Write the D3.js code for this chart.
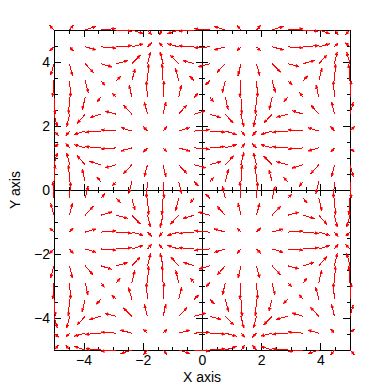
<!DOCTYPE html>
<html>
<head>
<meta charset="utf-8">
<script src="https://cdn.jsdelivr.net/npm/d3@7"></script>
<style>
body { margin: 0; background: #fff; }
text { font-family: "Liberation Sans", Arial, sans-serif; }
</style>
</head>
<body>
<div id="chart"></div>
<script>
// grid positions (same for x and y), 20 points from -5 to 5
var gridX = [-5, -4.474, -3.947, -3.421, -2.895, -2.368, -1.842, -1.316, -0.789, -0.263,
             0.263, 0.789, 1.316, 1.842, 2.368, 2.895, 3.421, 3.947, 4.474, 5];
var gridY = gridX.slice();

// u component, one row per y (bottom row first)
var uRows = [
  [0.27,-0.23,-0.66,-0.92,-0.93,-0.69,-0.26,0.24,0.68,0.93,0.93,0.68,0.24,-0.26,-0.69,-0.93,-0.92,-0.66,-0.23,0.27],
  [0.28,-0.23,-0.67,-0.93,-0.94,-0.70,-0.26,0.25,0.68,0.94,0.94,0.68,0.25,-0.26,-0.70,-0.94,-0.93,-0.67,-0.23,0.28],
  [0.20,-0.17,-0.50,-0.69,-0.70,-0.52,-0.19,0.18,0.51,0.70,0.70,0.51,0.18,-0.19,-0.52,-0.70,-0.69,-0.50,-0.17,0.20],
  [0.08,-0.07,-0.19,-0.27,-0.27,-0.20,-0.07,0.07,0.19,0.27,0.27,0.19,0.07,-0.07,-0.20,-0.27,-0.27,-0.19,-0.07,0.08],
  [-0.07,0.06,0.17,0.23,0.24,0.17,0.07,-0.06,-0.17,-0.24,-0.24,-0.17,-0.06,0.07,0.17,0.24,0.23,0.17,0.06,-0.07],
  [-0.20,0.17,0.48,0.67,0.68,0.50,0.19,-0.18,-0.49,-0.67,-0.67,-0.49,-0.18,0.19,0.50,0.68,0.67,0.48,0.17,-0.20],
  [-0.27,0.23,0.67,0.93,0.93,0.69,0.26,-0.24,-0.68,-0.93,-0.93,-0.68,-0.24,0.26,0.69,0.93,0.93,0.67,0.23,-0.27],
  [-0.27,0.23,0.67,0.93,0.94,0.69,0.26,-0.24,-0.68,-0.93,-0.93,-0.68,-0.24,0.26,0.69,0.94,0.93,0.67,0.23,-0.27],
  [-0.20,0.17,0.49,0.68,0.69,0.51,0.19,-0.18,-0.50,-0.69,-0.69,-0.50,-0.18,0.19,0.51,0.69,0.68,0.49,0.17,-0.20],
  [-0.07,0.06,0.18,0.25,0.25,0.19,0.07,-0.07,-0.18,-0.25,-0.25,-0.18,-0.07,0.07,0.19,0.25,0.25,0.18,0.06,-0.07],
  [0.07,-0.06,-0.18,-0.25,-0.25,-0.19,-0.07,0.07,0.18,0.25,0.25,0.18,0.07,-0.07,-0.19,-0.25,-0.25,-0.18,-0.06,0.07],
  [0.20,-0.17,-0.49,-0.68,-0.69,-0.51,-0.19,0.18,0.50,0.69,0.69,0.50,0.18,-0.19,-0.51,-0.69,-0.68,-0.49,-0.17,0.20],
  [0.27,-0.23,-0.67,-0.93,-0.94,-0.69,-0.26,0.24,0.68,0.93,0.93,0.68,0.24,-0.26,-0.69,-0.94,-0.93,-0.67,-0.23,0.27],
  [0.27,-0.23,-0.67,-0.93,-0.93,-0.69,-0.26,0.24,0.68,0.93,0.93,0.68,0.24,-0.26,-0.69,-0.93,-0.93,-0.67,-0.23,0.27],
  [0.20,-0.17,-0.48,-0.67,-0.68,-0.50,-0.19,0.18,0.49,0.67,0.67,0.49,0.18,-0.19,-0.50,-0.68,-0.67,-0.48,-0.17,0.20],
  [0.07,-0.06,-0.17,-0.23,-0.24,-0.17,-0.07,0.06,0.17,0.24,0.24,0.17,0.06,-0.07,-0.17,-0.24,-0.23,-0.17,-0.06,0.07],
  [-0.08,0.07,0.19,0.27,0.27,0.20,0.07,-0.07,-0.19,-0.27,-0.27,-0.19,-0.07,0.07,0.20,0.27,0.27,0.19,0.07,-0.08],
  [-0.20,0.17,0.50,0.69,0.70,0.52,0.19,-0.18,-0.51,-0.70,-0.70,-0.51,-0.18,0.19,0.52,0.70,0.69,0.50,0.17,-0.20],
  [-0.28,0.23,0.67,0.93,0.94,0.70,0.26,-0.25,-0.68,-0.94,-0.94,-0.68,-0.25,0.26,0.70,0.94,0.93,0.67,0.23,-0.28],
  [-0.27,0.23,0.66,0.92,0.93,0.69,0.26,-0.24,-0.68,-0.93,-0.93,-0.68,-0.24,0.26,0.69,0.93,0.92,0.66,0.23,-0.27]
];

// v component, one row per y (bottom row first)
var vRows = [
  [0.27,0.28,0.20,0.08,-0.07,-0.20,-0.27,-0.27,-0.20,-0.07,0.07,0.20,0.27,0.27,0.20,0.07,-0.08,-0.20,-0.28,-0.27],
  [-0.23,-0.23,-0.17,-0.07,0.06,0.17,0.23,0.23,0.17,0.06,-0.06,-0.17,-0.23,-0.23,-0.17,-0.06,0.07,0.17,0.23,0.23],
  [-0.66,-0.67,-0.50,-0.19,0.17,0.48,0.67,0.67,0.49,0.18,-0.18,-0.49,-0.67,-0.67,-0.48,-0.17,0.19,0.50,0.67,0.66],
  [-0.92,-0.93,-0.69,-0.27,0.23,0.67,0.93,0.93,0.68,0.25,-0.25,-0.68,-0.93,-0.93,-0.67,-0.23,0.27,0.69,0.93,0.92],
  [-0.93,-0.94,-0.70,-0.27,0.24,0.68,0.93,0.94,0.69,0.25,-0.25,-0.69,-0.94,-0.93,-0.68,-0.24,0.27,0.70,0.94,0.93],
  [-0.69,-0.70,-0.52,-0.20,0.17,0.50,0.69,0.69,0.51,0.19,-0.19,-0.51,-0.69,-0.69,-0.50,-0.17,0.20,0.52,0.70,0.69],
  [-0.26,-0.26,-0.19,-0.07,0.07,0.19,0.26,0.26,0.19,0.07,-0.07,-0.19,-0.26,-0.26,-0.19,-0.07,0.07,0.19,0.26,0.26],
  [0.24,0.25,0.18,0.07,-0.06,-0.18,-0.24,-0.24,-0.18,-0.07,0.07,0.18,0.24,0.24,0.18,0.06,-0.07,-0.18,-0.25,-0.24],
  [0.68,0.68,0.51,0.19,-0.17,-0.49,-0.68,-0.68,-0.50,-0.18,0.18,0.50,0.68,0.68,0.49,0.17,-0.19,-0.51,-0.68,-0.68],
  [0.93,0.94,0.70,0.27,-0.24,-0.67,-0.93,-0.93,-0.69,-0.25,0.25,0.69,0.93,0.93,0.67,0.24,-0.27,-0.70,-0.94,-0.93],
  [0.93,0.94,0.70,0.27,-0.24,-0.67,-0.93,-0.93,-0.69,-0.25,0.25,0.69,0.93,0.93,0.67,0.24,-0.27,-0.70,-0.94,-0.93],
  [0.68,0.68,0.51,0.19,-0.17,-0.49,-0.68,-0.68,-0.50,-0.18,0.18,0.50,0.68,0.68,0.49,0.17,-0.19,-0.51,-0.68,-0.68],
  [0.24,0.25,0.18,0.07,-0.06,-0.18,-0.24,-0.24,-0.18,-0.07,0.07,0.18,0.24,0.24,0.18,0.06,-0.07,-0.18,-0.25,-0.24],
  [-0.26,-0.26,-0.19,-0.07,0.07,0.19,0.26,0.26,0.19,0.07,-0.07,-0.19,-0.26,-0.26,-0.19,-0.07,0.07,0.19,0.26,0.26],
  [-0.69,-0.70,-0.52,-0.20,0.17,0.50,0.69,0.69,0.51,0.19,-0.19,-0.51,-0.69,-0.69,-0.50,-0.17,0.20,0.52,0.70,0.69],
  [-0.93,-0.94,-0.70,-0.27,0.24,0.68,0.93,0.94,0.69,0.25,-0.25,-0.69,-0.94,-0.93,-0.68,-0.24,0.27,0.70,0.94,0.93],
  [-0.92,-0.93,-0.69,-0.27,0.23,0.67,0.93,0.93,0.68,0.25,-0.25,-0.68,-0.93,-0.93,-0.67,-0.23,0.27,0.69,0.93,0.92],
  [-0.66,-0.67,-0.50,-0.19,0.17,0.48,0.67,0.67,0.49,0.18,-0.18,-0.49,-0.67,-0.67,-0.48,-0.17,0.19,0.50,0.67,0.66],
  [-0.23,-0.23,-0.17,-0.07,0.06,0.17,0.23,0.23,0.17,0.06,-0.06,-0.17,-0.23,-0.23,-0.17,-0.06,0.07,0.17,0.23,0.23],
  [0.27,0.28,0.20,0.08,-0.07,-0.20,-0.27,-0.27,-0.20,-0.07,0.07,0.20,0.27,0.27,0.20,0.07,-0.08,-0.20,-0.28,-0.27]
];

var majorTicks = [-4, -2, 0, 2, 4];
var minorTicks = d3.range(-5, 5.01, 0.5);

var svgWidth = 379;
var svgHeight = 385;
var margin = { top: 30, right: 29, bottom: 35, left: 54 };
var width = svgWidth - margin.left - margin.right;
var height = svgHeight - margin.top - margin.bottom;

var svg = d3.select("#chart")
  .append("svg")
  .attr("width", svgWidth)
  .attr("height", svgHeight)
  .style("background", "#fff");

var chartGroup = svg.append("g")
  .attr("transform", `translate(${margin.left}, ${margin.top})`);

var xScale = d3.scaleLinear().domain([-5, 5]).range([0, width]);
var yScale = d3.scaleLinear().domain([-5, 5]).range([height, 0]);

function styleAxis(g) {
  g.select(".domain").remove();
  g.selectAll("line").attr("stroke", "#000").attr("shape-rendering", "crispEdges");
  g.selectAll("text").attr("fill", "#000").style("font-size", "14px");
}

// frame ticks (inward), major with labels
chartGroup.append("g")
  .attr("transform", `translate(0, ${height})`)
  .call(d3.axisBottom(xScale).tickValues(majorTicks).tickSize(-7).tickPadding(5))
  .call(styleAxis);
chartGroup.append("g")
  .attr("transform", `translate(0, ${height})`)
  .call(d3.axisBottom(xScale).tickValues(minorTicks).tickSize(-3.5).tickFormat(""))
  .call(styleAxis);
chartGroup.append("g")
  .call(d3.axisTop(xScale).tickValues(majorTicks).tickSize(-7).tickFormat(""))
  .call(styleAxis);
chartGroup.append("g")
  .call(d3.axisTop(xScale).tickValues(minorTicks).tickSize(-3.5).tickFormat(""))
  .call(styleAxis);
chartGroup.append("g")
  .call(d3.axisLeft(yScale).tickValues(majorTicks).tickSize(-7).tickPadding(4))
  .call(styleAxis);
chartGroup.append("g")
  .call(d3.axisLeft(yScale).tickValues(minorTicks).tickSize(-3.5).tickFormat(""))
  .call(styleAxis);
chartGroup.append("g")
  .attr("transform", `translate(${width}, 0)`)
  .call(d3.axisRight(yScale).tickValues(majorTicks).tickSize(-7).tickFormat(""))
  .call(styleAxis);
chartGroup.append("g")
  .attr("transform", `translate(${width}, 0)`)
  .call(d3.axisRight(yScale).tickValues(minorTicks).tickSize(-3.5).tickFormat(""))
  .call(styleAxis);

// zero axes, ticks on both sides
[1, -1].forEach(function(s) {
  chartGroup.append("g")
    .attr("transform", `translate(0, ${yScale(0)})`)
    .call(d3.axisBottom(xScale).tickValues(majorTicks).tickSize(6 * s).tickFormat(""))
    .call(styleAxis);
  chartGroup.append("g")
    .attr("transform", `translate(0, ${yScale(0)})`)
    .call(d3.axisBottom(xScale).tickValues(minorTicks).tickSize(3 * s).tickFormat(""))
    .call(styleAxis);
  chartGroup.append("g")
    .attr("transform", `translate(${xScale(0)}, 0)`)
    .call(d3.axisLeft(yScale).tickValues(majorTicks).tickSize(6 * s).tickFormat(""))
    .call(styleAxis);
  chartGroup.append("g")
    .attr("transform", `translate(${xScale(0)}, 0)`)
    .call(d3.axisLeft(yScale).tickValues(minorTicks).tickSize(3 * s).tickFormat(""))
    .call(styleAxis);
});

chartGroup.append("line")
  .attr("x1", 0).attr("x2", width)
  .attr("y1", yScale(0)).attr("y2", yScale(0))
  .attr("stroke", "#000").attr("shape-rendering", "crispEdges");
chartGroup.append("line")
  .attr("x1", xScale(0)).attr("x2", xScale(0))
  .attr("y1", 0).attr("y2", height)
  .attr("stroke", "#000").attr("shape-rendering", "crispEdges");

// frame
chartGroup.append("rect")
  .attr("width", width).attr("height", height)
  .attr("fill", "none").attr("stroke", "#000")
  .attr("shape-rendering", "crispEdges");

// axis titles
svg.append("text")
  .attr("x", margin.left + xScale(0))
  .attr("y", 382)
  .attr("text-anchor", "middle")
  .style("font-size", "14px")
  .text("X axis");
svg.append("text")
  .attr("transform", `translate(20, ${margin.top + yScale(0)}) rotate(-90)`)
  .attr("text-anchor", "middle")
  .style("font-size", "14px")
  .text("Y axis");

// vectors: tail at grid point, longest arrow = grid spacing
var vectors = [];
gridY.forEach(function(gy, j) {
  gridX.forEach(function(gx, i) {
    vectors.push({ x: gx, y: gy, u: uRows[j][i], v: vRows[j][i] });
  });
});
var maxMag = d3.max(vectors, d => Math.hypot(d.u, d.v));
var spacing = gridX[1] - gridX[0];
var scale = spacing / maxMag;

var arrowGroup = chartGroup.append("g");
vectors.forEach(function(d) {
  var x0 = xScale(d.x), y0 = yScale(d.y);
  var x1 = xScale(d.x + d.u * scale), y1 = yScale(d.y + d.v * scale);
  var ang = Math.atan2(y1 - y0, x1 - x0);
  var hl = 3.5, hw = 1.4;
  var bx = x1 - hl * Math.cos(ang), by = y1 - hl * Math.sin(ang);
  arrowGroup.append("line")
    .attr("x1", x0).attr("y1", y0)
    .attr("x2", x1).attr("y2", y1)
    .attr("stroke", "#ff0000")
    .attr("stroke-width", 1)
    .attr("shape-rendering", "crispEdges");
  arrowGroup.append("path")
    .attr("d", `M${x1},${y1}L${bx - hw * Math.sin(ang)},${by + hw * Math.cos(ang)}L${bx + hw * Math.sin(ang)},${by - hw * Math.cos(ang)}Z`)
    .attr("fill", "#ff0000")
    .attr("stroke", "#ff0000")
    .attr("stroke-width", 0.5)
    .attr("shape-rendering", "crispEdges");
});
</script>
</body>
</html>
